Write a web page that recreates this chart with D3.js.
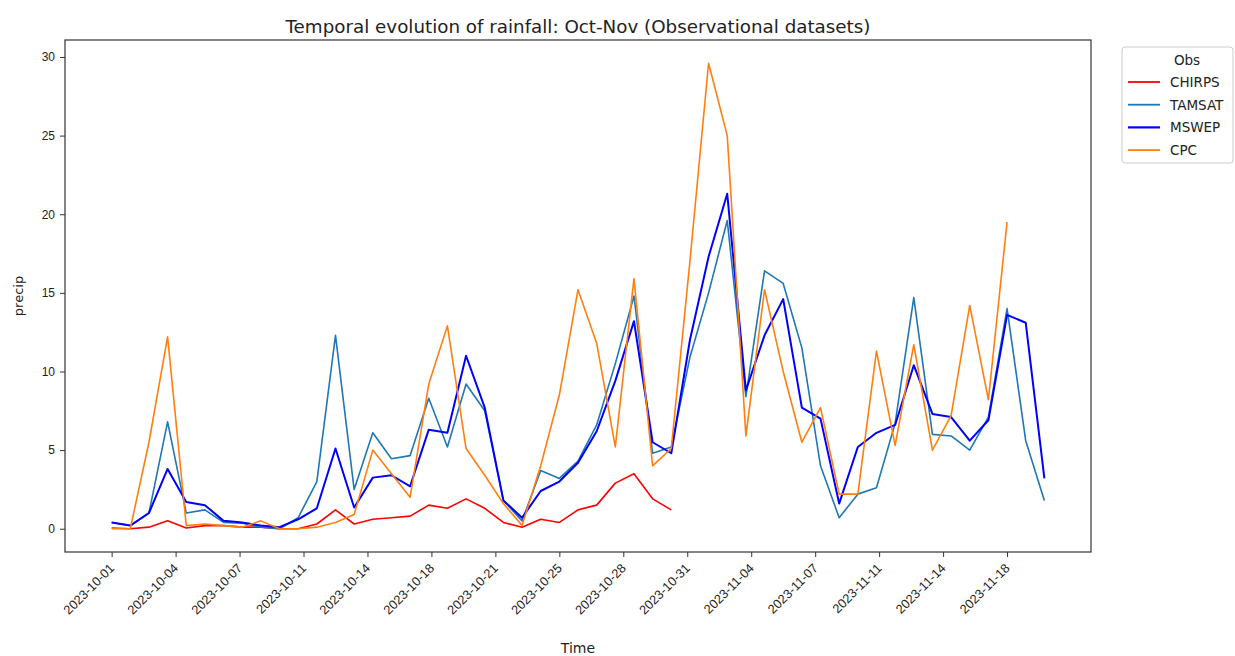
<!DOCTYPE html>
<html>
<head>
<meta charset="utf-8">
<script src="https://cdn.jsdelivr.net/npm/d3@7"></script>
<style>
  body { margin: 0; background: #fff; }
  svg { font-family: "DejaVu Sans", sans-serif; }
</style>
</head>
<body>
<svg id="chartSVG" width="1235" height="656"></svg>
<script>
/**
 * Daily rainfall (one value per day from 2023-10-01)
 */
const startDay = "2023-10-01";
const seriesNames = ["CHIRPS", "TAMSAT", "MSWEP", "CPC"];
const seriesColors = ["#ff0000", "#1f77b4", "#0000ff", "#ff7f0e"];

const chirps = [0.05, 0.0, 0.1, 0.5, 0.05, 0.2, 0.2, 0.1, 0.1, 0.0,
  0.0, 0.3, 1.2, 0.3, 0.6, 0.7, 0.8, 1.5, 1.3, 1.9,
  1.3, 0.4, 0.1, 0.6, 0.4, 1.2, 1.5, 2.9, 3.5, 1.9,
  1.2];
const tamsat = [0.4, 0.2, 1.0, 6.8, 1.0, 1.2, 0.4, 0.35, 0.1, 0.0,
  0.7, 3.0, 12.3, 2.5, 6.1, 4.45, 4.65, 8.3, 5.2, 9.2,
  7.5, 1.8, 0.5, 3.7, 3.2, 4.3, 6.6, 10.5, 14.8, 4.8,
  5.2, 10.9, 15.0, 19.6, 8.4, 16.4, 15.6, 11.5, 4.0, 0.7,
  2.2, 2.6, 6.7, 14.7, 6.0, 5.9, 5.0, 7.1, 14.0, 5.6,
  1.8];
const mswep = [0.4, 0.2, 1.0, 3.8, 1.7, 1.5, 0.5, 0.4, 0.2, 0.1,
  0.6, 1.3, 5.1, 1.35, 3.25, 3.4, 2.7, 6.3, 6.1, 11.0,
  7.7, 1.8, 0.7, 2.4, 3.0, 4.2, 6.2, 9.4, 13.2, 5.5,
  4.8, 12.0, 17.3, 21.3, 8.8, 12.3, 14.6, 7.7, 7.0, 1.6,
  5.2, 6.1, 6.6, 10.4, 7.3, 7.1, 5.6, 6.9, 13.6, 13.1,
  3.2];
const cpc = [0.0, 0.0, 5.5, 12.2, 0.2, 0.3, 0.2, 0.1, 0.5, 0.0,
  0.0, 0.1, 0.4, 0.9, 5.0, 3.5, 2.0, 9.2, 12.9, 5.1,
  3.4, 1.6, 0.2, 4.0, 8.5, 15.2, 11.8, 5.2, 15.9, 4.0,
  5.1, 17.0, 29.6, 25.0, 5.9, 15.2, 10.0, 5.5, 7.7, 2.2,
  2.2, 11.3, 5.3, 11.7, 5.0, 7.2, 14.2, 8.2, 19.5];

const yTicks = [0, 5, 10, 15, 20, 25, 30];
const xTickLabels = ["2023-10-01", "2023-10-04", "2023-10-07", "2023-10-11",
  "2023-10-14", "2023-10-18", "2023-10-21", "2023-10-25", "2023-10-28",
  "2023-10-31", "2023-11-04", "2023-11-07", "2023-11-11", "2023-11-14",
  "2023-11-18"];

/**
 * Margins of the plotting box
 */
const chartMargin = { top: 40, right: 144, bottom: 104, left: 65 },
  chartWidth = 1235 - chartMargin.left - chartMargin.right,
  chartHeight = 656 - chartMargin.top - chartMargin.bottom;

const parseDay = d3.timeParse("%Y-%m-%d");
const day0 = parseDay(startDay);
const allSeries = [chirps, tamsat, mswep, cpc].map((values, i) => ({
  name: seriesNames[i],
  color: seriesColors[i],
  points: values.map((v, k) => ({ date: d3.timeDay.offset(day0, k), value: v }))
}));

// scales with the 5% padding matplotlib puts round the data
const lastDay = d3.max(allSeries, s => s.points[s.points.length - 1].date);
const daySpan = (lastDay - day0) * 0.05;
const x = d3.scaleTime()
  .domain([new Date(+day0 - daySpan), new Date(+lastDay + daySpan)])
  .range([0, chartWidth]);

const yMin = d3.min(allSeries, s => d3.min(s.points, p => p.value));
const yMax = d3.max(allSeries, s => d3.max(s.points, p => p.value));
const yPad = (yMax - yMin) * 0.05;
const y = d3.scaleLinear()
  .domain([yMin - yPad, yMax + yPad])
  .range([chartHeight, 0]);

// the x ticks are evenly spread between the first and last label
const firstTick = parseDay(xTickLabels[0]);
const lastTick = parseDay(xTickLabels[xTickLabels.length - 1]);
const tickDates = xTickLabels.map((label, i) =>
  new Date(+firstTick + (lastTick - firstTick) * i / (xTickLabels.length - 1)));

const svg = d3.select("#chartSVG");
const g = svg.append("g")
  .attr("transform", `translate(${chartMargin.left},${chartMargin.top})`);

// lines
const line = d3.line().x(d => x(d.date)).y(d => y(d.value));
g.selectAll(".series")
  .data(allSeries)
  .join("path")
  .attr("class", "series")
  .attr("fill", "none")
  .attr("stroke", d => d.color)
  .attr("stroke-width", d => d.name === "MSWEP" ? 2 : 1.6)
  .attr("stroke-linejoin", "round")
  .attr("d", d => line(d.points));

// axes
const xAxis = d3.axisBottom(x)
  .tickValues(tickDates)
  .tickFormat((d, i) => xTickLabels[i])
  .tickSize(5)
  .tickSizeOuter(0);
const xAxisGroup = g.append("g")
  .attr("transform", `translate(0,${chartHeight})`)
  .call(xAxis);
xAxisGroup.select(".domain").remove();
xAxisGroup.selectAll("text")
  .attr("font-size", 12.8)
  .attr("fill", "#222")
  .attr("text-anchor", "end")
  .attr("dy", "0")
  .attr("y", 0)
  .attr("transform", "translate(3,17) rotate(-45)");

const yAxis = d3.axisLeft(y).tickValues(yTicks).tickSize(5).tickPadding(5);
const yAxisGroup = g.append("g").call(yAxis);
yAxisGroup.select(".domain").remove();
yAxisGroup.selectAll("text").attr("font-size", 12).attr("fill", "#222");
g.selectAll(".tick line").attr("stroke", "#333");

// frame
g.append("rect")
  .attr("width", chartWidth)
  .attr("height", chartHeight)
  .attr("fill", "none")
  .attr("stroke", "#333")
  .attr("stroke-width", 1.2);

// labels
svg.append("text")
  .attr("x", chartMargin.left + chartWidth / 2)
  .attr("y", 33)
  .attr("text-anchor", "middle")
  .attr("font-size", 18.3)
  .attr("fill", "#222")
  .text("Temporal evolution of rainfall: Oct-Nov (Observational datasets)");

svg.append("text")
  .attr("x", chartMargin.left + chartWidth / 2)
  .attr("y", 653)
  .attr("text-anchor", "middle")
  .attr("font-size", 14)
  .attr("fill", "#222")
  .text("Time");

svg.append("text")
  .attr("transform", `translate(23,${chartMargin.top + chartHeight / 2}) rotate(-90)`)
  .attr("text-anchor", "middle")
  .attr("font-size", 13)
  .attr("fill", "#222")
  .text("precip");

// legend
const legend = svg.append("g").attr("transform", "translate(1122,47)");
legend.append("rect")
  .attr("width", 111)
  .attr("height", 116)
  .attr("rx", 3)
  .attr("fill", "#fff")
  .attr("stroke", "#ccc");
legend.append("text")
  .attr("x", 65)
  .attr("y", 18)
  .attr("text-anchor", "middle")
  .attr("font-size", 13.5)
  .attr("fill", "#222")
  .text("Obs");
const legendItems = legend.selectAll(".item")
  .data(allSeries)
  .join("g")
  .attr("class", "item")
  .attr("transform", (d, i) => `translate(0,${35 + i * 22.7})`);
legendItems.append("line")
  .attr("x1", 6).attr("x2", 38)
  .attr("stroke", d => d.color)
  .attr("stroke-width", d => d.name === "MSWEP" ? 2.2 : 1.8);
legendItems.append("text")
  .attr("x", 48)
  .attr("y", 5)
  .attr("font-size", 13.5)
  .attr("fill", "#222")
  .text(d => d.name);
</script>
</body>
</html>
